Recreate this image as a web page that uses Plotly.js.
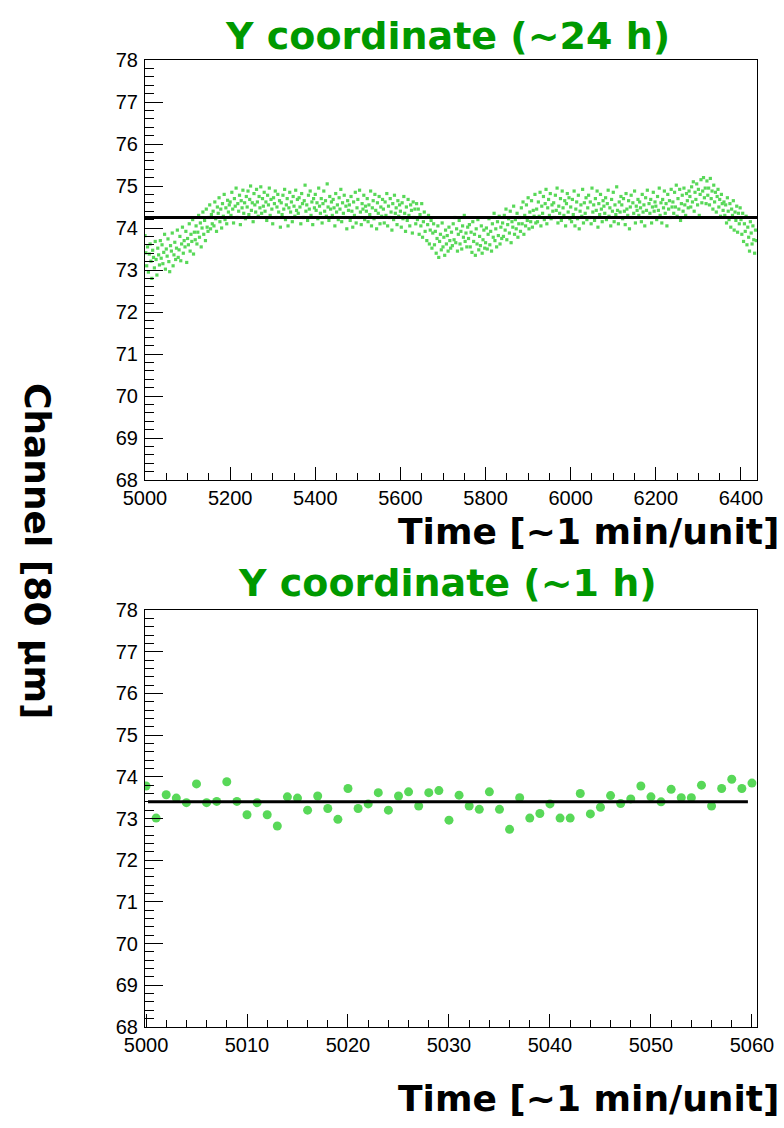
<!DOCTYPE html>
<html>
<head>
<meta charset="utf-8">
<script src="https://cdn.plot.ly/plotly-3.0.1.min.js"></script>
<style>html,body{margin:0;padding:0;background:#fff;}#plot{width:784px;height:1128px;}</style>
</head>
<body>
<div id="plot"></div>
<script>
// ---------- data ----------
const titleTop = "Y coordinate (~24 h)";
const titleBottom = "Y coordinate (~1 h)";
const xAxisTitle = "Time [~1 min/unit]";
const yAxisTitle = "Channel [80 µm]";

// Top panel: samples every 2 time units starting at 5000
const topStart = 5000;
const topStep = 2;
const topValues = [
73.82,73.41,73.10,73.55,72.95,73.38,73.62,73.21,72.80,73.47,73.30,73.05,73.68,73.25,72.88,73.52,73.36,73.12,73.70,73.28,
73.60,73.15,73.42,73.85,73.02,73.50,73.33,73.74,73.20,72.96,73.58,73.45,73.88,73.10,73.36,73.66,73.25,73.52,73.95,73.30,
73.48,73.80,73.22,73.62,74.02,73.40,73.70,73.55,73.92,73.18,73.75,73.60,74.10,73.45,73.85,73.68,74.20,73.38,73.90,73.72,
74.05,73.62,73.90,74.30,73.78,74.12,73.55,74.00,74.38,73.85,74.18,73.70,74.45,74.02,73.92,74.25,74.55,73.98,74.32,74.10,
74.40,74.05,74.62,74.22,73.92,74.50,74.35,74.72,74.15,74.45,74.00,74.58,74.28,74.80,74.20,74.48,74.10,74.66,74.38,74.55,
74.62,74.30,74.85,74.45,74.12,74.70,74.52,74.95,74.25,74.58,74.40,74.78,74.08,74.65,74.48,74.90,74.35,74.60,74.22,74.75,
74.50,74.88,74.32,74.68,75.00,74.42,74.60,74.15,74.82,74.55,74.38,74.92,74.62,74.28,74.75,74.48,74.98,74.35,74.70,74.52,
74.85,74.40,74.62,74.18,74.78,74.55,74.95,74.30,74.68,74.45,74.10,74.72,74.58,74.88,74.25,74.50,74.80,74.38,74.65,74.02,
74.60,74.32,74.78,74.45,74.92,74.20,74.55,74.70,74.05,74.48,74.85,74.38,74.62,74.15,74.75,74.52,74.28,74.90,74.42,74.68,
74.35,74.72,74.50,74.10,74.82,74.58,74.25,74.65,75.02,74.40,74.55,74.18,74.78,74.45,74.88,74.30,74.62,74.08,74.70,74.48,
74.80,74.42,74.60,74.22,74.95,74.52,74.35,74.70,74.12,74.58,74.88,74.40,74.65,74.28,75.05,74.50,74.18,74.75,74.45,74.62,
74.30,74.68,74.48,74.05,74.82,74.38,74.55,74.20,74.72,74.45,74.92,74.15,74.60,74.35,74.78,74.25,74.52,73.98,74.65,74.42,
74.55,74.18,74.75,74.40,74.02,74.62,74.30,74.85,74.12,74.48,74.68,74.25,74.90,74.38,74.08,74.58,74.45,74.78,74.20,74.52,
74.40,74.70,74.15,74.55,74.32,74.88,74.05,74.48,74.65,74.22,74.80,74.42,73.98,74.60,74.35,74.75,74.10,74.50,74.28,74.68,
74.45,74.12,74.62,74.30,74.82,74.05,74.52,74.25,74.70,74.38,73.95,74.58,74.20,74.78,74.35,74.48,74.08,74.65,74.28,74.55,
74.40,74.02,74.60,74.22,74.75,74.35,73.92,74.50,74.18,74.68,74.30,74.05,74.55,74.42,73.88,74.62,74.25,74.45,74.10,74.58,
74.20,74.45,73.85,74.32,74.05,74.58,73.78,74.15,74.38,73.92,74.25,73.70,74.08,74.30,73.62,73.95,74.18,73.52,73.88,74.10,
73.60,73.92,73.40,73.75,74.05,73.30,73.68,73.85,73.48,74.12,73.55,73.78,73.35,73.95,73.62,73.82,73.45,74.02,73.70,73.52,
73.90,73.58,74.10,73.72,74.25,73.65,73.98,73.45,73.85,74.18,73.62,73.92,73.50,74.05,73.78,74.30,73.68,73.88,73.55,74.02,
73.75,74.08,73.55,73.90,73.42,74.15,73.68,73.85,73.35,73.98,73.62,74.20,73.48,73.80,73.58,74.05,73.40,73.72,73.95,73.52,
73.65,74.00,73.50,73.85,74.22,73.60,73.92,73.45,74.10,73.78,74.35,73.70,73.98,73.55,74.15,73.82,74.28,73.62,74.02,73.75,
74.12,73.80,74.30,73.95,74.45,73.72,74.08,74.22,73.88,74.40,73.65,74.15,74.02,74.52,73.85,74.20,73.98,74.35,73.78,74.10,
74.25,73.92,74.48,74.10,74.62,73.85,74.30,74.05,74.55,74.18,74.72,73.98,74.38,74.15,74.65,74.02,74.42,74.28,74.80,74.12,
74.45,74.15,74.62,74.28,74.85,74.05,74.52,74.35,74.75,74.20,74.58,74.92,74.10,74.48,74.68,74.30,74.82,74.22,74.55,74.40,
74.60,74.25,74.78,74.42,74.95,74.12,74.52,74.35,74.70,74.18,74.88,74.48,74.30,74.65,74.05,74.58,74.82,74.38,74.72,74.22,
74.50,74.15,74.68,74.32,74.88,74.05,74.45,74.62,74.22,74.78,73.98,74.40,74.55,74.28,74.92,74.12,74.60,74.35,74.72,74.20,
74.48,74.78,74.25,74.62,74.10,74.95,74.38,74.55,74.18,74.70,74.42,74.88,74.02,74.58,74.32,74.80,74.45,74.15,74.65,74.52,
74.35,74.72,74.20,74.58,74.90,74.28,74.48,74.05,74.68,74.40,74.85,74.15,74.55,74.32,74.98,74.42,74.10,74.62,74.38,74.75,
74.55,74.22,74.70,74.40,74.08,74.82,74.45,74.30,74.65,73.98,74.50,74.78,74.25,74.60,74.35,74.88,74.12,74.52,74.42,74.68,
74.30,74.62,74.48,74.15,74.80,74.38,74.55,74.05,74.72,74.42,74.90,74.25,74.58,74.35,74.68,74.12,74.50,74.85,74.40,74.62,
74.52,74.20,74.75,74.42,74.95,74.30,74.60,74.12,74.68,74.48,74.88,74.35,74.58,74.05,74.80,74.45,74.65,74.25,74.92,74.50,
74.62,74.35,74.85,74.50,75.02,74.28,74.70,74.45,74.92,74.18,74.58,74.78,74.40,74.95,74.55,74.30,74.82,74.65,74.48,74.88,
74.75,74.50,74.98,74.62,75.10,74.40,74.85,74.68,75.05,74.55,74.92,74.30,74.80,75.15,74.60,74.88,75.20,74.72,74.95,74.58,
75.12,74.78,74.95,74.55,75.18,74.70,74.88,74.45,75.02,74.62,74.85,74.38,74.75,74.92,74.50,74.68,74.28,74.80,74.58,74.42,
74.62,74.30,74.55,74.12,74.72,74.40,74.20,74.58,74.02,74.45,74.30,74.65,73.95,74.38,74.18,74.52,73.90,74.35,74.10,74.48,
74.20,73.85,74.35,73.68,74.10,73.92,74.28,73.60,74.02,73.78,73.45,74.15,73.88,73.62,74.05,73.72,73.40,73.95,73.70
];
const topFit = 74.25;

// Bottom panel: one sample per time unit
const bottomTimes = [
5000,5001,5002,5003,5004,5005,5006,5007,5008,5009,5010,5011,5012,5013,5014,5015,5016,5017,5018,5019,
5020,5021,5022,5023,5024,5025,5026,5027,5028,5029,5030,5031,5032,5033,5034,5035,5036,5037,5038,5039,
5040,5041,5042,5043,5044,5045,5046,5047,5048,5049,5050,5051,5052,5053,5054,5055,5056,5057,5058,5059,5060
];
const bottomValues = [
73.78,73.01,73.57,73.49,73.38,73.83,73.38,73.41,73.88,73.41,73.09,73.38,73.09,72.82,73.52,73.49,73.20,73.54,73.24,72.98,
73.72,73.24,73.35,73.62,73.20,73.54,73.64,73.30,73.62,73.67,72.96,73.56,73.30,73.22,73.64,73.22,72.74,73.50,73.01,73.12,
73.35,73.01,73.01,73.60,73.11,73.27,73.55,73.36,73.47,73.78,73.52,73.40,73.70,73.50,73.50,73.80,73.30,73.72,73.94,73.72,73.85
];
const bottomFit = 73.40;
const bottomFitRange = [5000.2, 5059.6];

const yTickVals = [68,69,70,71,72,73,74,75,76,77,78];
const topXTicks = [5000,5200,5400,5600,5800,6000,6200,6400];
const bottomXTicks = [5000,5010,5020,5030,5040,5050,5060];

// ---------- build ----------
const topX = topValues.map((v, i) => topStart + i * topStep);
const topRange = [5000, 6437.6];
const bottomRange = [4999.9, 5060.5];

const green = "#58d858";
const titleGreen = "#009900";

const traces = [
  {x: topX, y: topValues, type: "scatter", mode: "markers",
   marker: {symbol: "square", size: 3.2, color: green}, xaxis: "x", yaxis: "y", hoverinfo: "skip"},
  {x: topRange, y: [topFit, topFit], type: "scatter", mode: "lines",
   line: {color: "#000", width: 3}, xaxis: "x", yaxis: "y"},
  {x: bottomTimes, y: bottomValues, type: "scatter", mode: "markers",
   marker: {symbol: "circle", size: 9, color: green}, xaxis: "x2", yaxis: "y2"},
  {x: bottomFitRange, y: [bottomFit, bottomFit], type: "scatter", mode: "lines",
   line: {color: "#000", width: 3}, xaxis: "x2", yaxis: "y2"}
];

const H = 1128;
const tickFont = {family: "Liberation Sans, Arial, sans-serif", size: 20, color: "#000"};

function yAxis(domain, anchor) {
  return {
    domain: domain, anchor: anchor, range: [68, 78], tickvals: yTickVals,
    ticks: "inside", ticklen: 18, tickwidth: 1, tickcolor: "#000",
    minor: {dtick: 0.2, ticks: "inside", ticklen: 9, tickwidth: 1, tickcolor: "#000", showgrid: false},
    showgrid: false, zeroline: false, showline: true, linecolor: "#000", linewidth: 1, mirror: true,
    tickfont: tickFont, ticklabelstandoff: 2, fixedrange: true
  };
}
function xAxis(range, ticks, minorStep, anchor) {
  return {
    domain: [0, 1], anchor: anchor, range: range, tickvals: ticks,
    ticks: "inside", ticklen: 13, tickwidth: 1, tickcolor: "#000",
    minor: {dtick: minorStep, ticks: "inside", ticklen: 7, tickwidth: 1, tickcolor: "#000", showgrid: false},
    showgrid: false, zeroline: false, showline: true, linecolor: "#000", linewidth: 1, mirror: true,
    tickfont: tickFont, ticklabelstandoff: 0, fixedrange: true
  };
}

const titleFont = {family: "DejaVu Sans, sans-serif", size: 38, color: titleGreen, weight: "bold"};
const axTitleFont = {family: "DejaVu Sans, sans-serif", size: 36, color: "#000", weight: "bold"};

const layout = {
  width: 784, height: 1128,
  margin: {l: 145, r: 27, t: 0, b: 0},
  paper_bgcolor: "#fff", plot_bgcolor: "#fff",
  showlegend: false,
  xaxis: xAxis(topRange, topXTicks, 50, "y"),
  yaxis: yAxis([1 - 480 / H, 1 - 60 / H], "x"),
  xaxis2: xAxis(bottomRange, bottomXTicks, 2, "y2"),
  yaxis2: yAxis([1 - 1027 / H, 1 - 610 / H], "x2"),
  annotations: [
    {text: titleTop, xref: "paper", yref: "paper", x: (447 - 145) / 612, y: 1 - 36 / H,
     xanchor: "center", yanchor: "middle", showarrow: false, font: titleFont},
    {text: titleBottom, xref: "paper", yref: "paper", x: (447 - 145) / 612, y: 1 - 583 / H,
     xanchor: "center", yanchor: "middle", showarrow: false, font: titleFont},
    {text: xAxisTitle, xref: "paper", yref: "paper", x: (781 - 145) / 612, y: 1 - 531 / H,
     xanchor: "right", yanchor: "middle", showarrow: false, font: axTitleFont},
    {text: xAxisTitle, xref: "paper", yref: "paper", x: (781 - 145) / 612, y: 1 - 1098 / H,
     xanchor: "right", yanchor: "middle", showarrow: false, font: axTitleFont},
    {text: yAxisTitle, xref: "paper", yref: "paper", x: (37 - 145) / 612, y: 1 - 551 / H,
     xanchor: "center", yanchor: "middle", showarrow: false, textangle: 90, font: axTitleFont}
  ]
};

Plotly.newPlot("plot", traces, layout, {staticPlot: true, displayModeBar: false});
</script>
</body>
</html>
